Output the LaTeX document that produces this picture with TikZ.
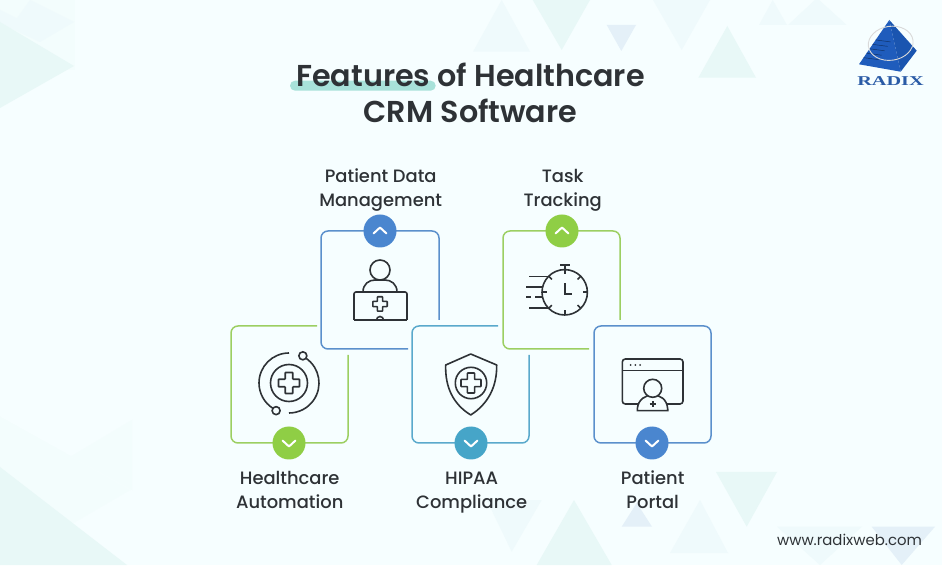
\documentclass[tikz,border=0pt]{standalone}
\usepackage{fontspec}
\setmainfont{Poppins}
\newfontfamily\titlefont{Poppins SemiBold}
\newfontfamily\capfont{Poppins Medium}
\newfontfamily\logofont{Liberation Serif}
\usetikzlibrary{positioning}

\definecolor{paper}{HTML}{F6FEFF}
\definecolor{inkdark}{HTML}{2E3236}
\definecolor{markbar}{HTML}{A8E2DA}
\definecolor{bluebox}{HTML}{5B90CC}
\definecolor{bluebadge}{HTML}{4A86CF}
\definecolor{greenbox}{HTML}{9CCF62}
\definecolor{greenbadge}{HTML}{8FCE45}
\definecolor{tealbox}{HTML}{5AA9CC}
\definecolor{tealbadge}{HTML}{46A5C8}
\definecolor{triA}{HTML}{E8F8F7}
\definecolor{triB}{HTML}{EFFAFC}
\definecolor{triC}{HTML}{E4F0F8}
\definecolor{triD}{HTML}{F3FDFD}
\definecolor{logoleft}{HTML}{1F5CBC}
\definecolor{logoright}{HTML}{1A55B0}
\definecolor{logotextc}{HTML}{2A5BA6}

\tikzset{
  card/.style={line width=1.5pt, rounded corners=7pt},
  badge/.style={circle, minimum size=33pt, inner sep=0pt},
  caption/.style={font=\capfont\fontsize{17.9}{24}\selectfont, text=inkdark, align=center, inner sep=0pt, xshift=.7pt},
  icon/.style={draw=inkdark, line width=1.6pt},
  chevup/.pic={\draw[white, line width=2pt, line cap=round, line join=round] (-6.5,-2.5) -- (0,3.5) -- (6.5,-2.5);},
  chevdown/.pic={\draw[white, line width=2pt, line cap=round, line join=round] (-6.5,2.5) -- (0,-3.5) -- (6.5,2.5);},
  plusmark/.pic={\draw[icon, rounded corners=.6pt] (-3.6,10) -- (3.6,10) -- (3.6,3.6) -- (10,3.6) -- (10,-3.6) -- (3.6,-3.6)
    -- (3.6,-10) -- (-3.6,-10) -- (-3.6,-3.6) -- (-10,-3.6) -- (-10,3.6) -- (-3.6,3.6) -- cycle;}
}

\begin{document}
\begin{tikzpicture}[x=1pt, y=1pt]
  \useasboundingbox (0,0) rectangle (942,565);
  \fill[paper] (0,0) rectangle (942,565);

  % background triangles
  \fill[triD] (0,565) -- (75,565) -- (75,495) -- (0,495) -- cycle;
  \fill[triB] (30,565) -- (74,543) -- (40,523) -- (10,537) -- cycle;
  \fill[triB] (0,555) -- (24,543) -- (0,530) -- cycle;
  \fill[triA] (0,543) -- (74,499) -- (0,457) -- cycle;
  \fill[triD] (0,148) -- (132,75) -- (132,145) -- (65,105) -- (0,60) -- cycle;
  \fill[triD] (0,148) -- (130,75) -- (70,40) -- (23,62) -- (0,75) -- cycle;
  \fill[triA] (0,98) -- (127,0) -- (0,0) -- cycle;
  \fill[triB] (501.7,565) -- (530,513.3) -- (473,513.3) -- cycle;
  \fill[triA] (532.7,565) -- (590,565) -- (561.7,515) -- cycle;
  \fill[triC] (606.7,540) -- (636,540) -- (621.3,514) -- cycle;
  \fill[triB] (653,565) -- (710,565) -- (681.7,515) -- cycle;
  \fill[triA] (727.3,539) -- (756,487.3) -- (698.3,487.3) -- cycle;
  \fill[triB] (772.7,565) -- (787,540) -- (759,540) -- cycle;
  \fill[triB] (817,567) -- (846.7,540) -- (788,540) -- cycle;
  \fill[triB] (486.7,65) -- (541.7,65) -- (511.7,13.3) -- cycle;
  \fill[triA] (574,65) -- (611.7,0) -- (536.7,0) -- cycle;
  \fill[triC] (636.7,62) -- (652,38.3) -- (621.7,38.3) -- cycle;
  \fill[triB] (700,65) -- (728,12) -- (670,12) -- cycle;
  \fill[triA] (716,93) -- (777,93) -- (746.7,38.3) -- cycle;
  \fill[triB] (777,38.3) -- (862,38.3) -- (820,0) -- cycle;
  \fill[triC] (871.7,38.3) -- (935,38.3) -- (901.7,0) -- cycle;

  % logo
  \fill[logoleft] (889.3,545) -- (859,500.7) -- (900.7,493.3) -- cycle;
  \fill[logoright] (889.3,545) -- (916.7,514.3) -- (900.7,493.3) -- cycle;
  \foreach \s in {0.45,0.55,0.65,0.75,0.85}
    \draw[logoright!60!black, line width=.5pt] ({889.3-30.3*\s},{545-44.3*\s}) -- ++(15,-2);
  \draw[gray!30, line width=.9pt, rotate around={8:(890.7,521.7)}] (890.7,521.7) ellipse [x radius=22.5pt, y radius=17pt];
  \node[font=\logofont\bfseries\fontsize{13.5}{13.5}\selectfont, text=logotextc, xscale=1.5, inner sep=0pt] (logotext) at (890.5,483.5) {RADIX};

  % title
  \fill[markbar, rounded corners=5pt] (290,474.3) rectangle (435.7,484.3);
  \node[font=\titlefont\fontsize{30.2}{35.5}\selectfont, text=inkdark, align=center, inner sep=0pt] (title) at (470.5,472) {Features of Healthcare\\CRM Software};
  \node[font=\fontsize{14.9}{14.9}\selectfont, text=inkdark, inner sep=0pt] (website) at (849.5,25) {www.radixweb.com};

  % cards
  \draw[card, bluebox] (439,245) -- (439,334) -- (321,334) -- (321,216) -- (408,216);
  \draw[card, greenbox] (317,239) -- (231,239) -- (231,122) -- (348,122) -- (348,210);
  \draw[card, tealbox] (498,239) -- (412,239) -- (412,122) -- (529,122) -- (529,210);
  \draw[card, greenbox] (620,245) -- (620,334) -- (503,334) -- (503,216) -- (589,216);
  \draw[card, bluebox] (594,122) rectangle (711,239);

  % badges
  \node[badge, fill=bluebadge] (patient) at (380,334) {};
  \node[badge, fill=greenbadge] (task) at (562,334) {};
  \node[badge, fill=greenbadge] (automation) at (289,122) {};
  \node[badge, fill=tealbadge] (hipaa) at (471,122) {};
  \node[badge, fill=bluebadge] (portal) at (652,122) {};
  \pic at (patient) {chevup};
  \pic at (task) {chevup};
  \pic at (automation) {chevdown};
  \pic at (hipaa) {chevdown};
  \pic at (portal) {chevdown};

  % captions
  \node[caption, above=.5pt of patient] (patienttext) {\strut Patient Data\\\strut Management};
  \node[caption, above=.5pt of task] (tasktext) {\strut Task\\\strut Tracking};
  \node[caption, below=7.5pt of automation] (automationtext) {\strut Healthcare\\\strut Automation};
  \node[caption, below=7.5pt of hipaa] (hipaatext) {\strut HIPAA\\\strut Compliance};
  \node[caption, below=7.5pt of portal] (portaltext) {\strut Patient\\\strut Portal};

  % doctor at laptop
  \draw[icon] (380,295) circle (10);
  \draw[icon] (363,273) .. controls (363,281) and (369,285) .. (375,285) -- (385,285) .. controls (391,285) and (397,281) .. (397,273);
  \draw[icon, rounded corners=2pt] (354,245) -- (354,273) -- (407,273) -- (407,245);
  \draw[icon] (354,245) -- (407,245);
  \draw[icon] (376.5,245) arc (180:0:3.5);
  \pic[scale=.72] at (380,261) {plusmark};

  % orbit
  \draw[icon] (289,182) circle (18.5);
  \pic[scale=1.05] at (289,182) {plusmark};
  \draw[icon] (289,212) arc (90:238:30);
  \draw[icon] (289,182) ++(55:30) arc (55:-90:30);
  \draw[icon] (289,182) ++(245:30.5) circle (4);
  \draw[icon] (289,182) ++(63:30.5) circle (4);

  % shield
  \draw[icon, line join=round] (470.7,211) -- (496.7,200) .. controls (497,178) and (488,161) .. (470.7,150)
    .. controls (453,161) and (445,178) .. (445.7,200) -- cycle;
  \draw[icon] (471,182) circle (15.7);
  \pic[scale=1] at (471,182) {plusmark};

  % stopwatch
  \draw[icon] (564.7,272.7) circle (22.7);
  \draw[icon] (564.7,295.4) -- (564.7,300);
  \draw[icon] (560,300) -- (569.5,300);
  \foreach \a in {0,45,...,315}
    \draw[icon] (564.7,272.7) ++(\a:22.7) -- ++(\a+180:4.5);
  \draw[icon] (564.7,281.7) -- (564.7,270.7) -- (572.3,270.7);
  \draw[icon] (529.3,288.3) -- (548.3,288.3);
  \draw[icon] (526,277.7) -- (543.3,277.7);
  \draw[icon] (526,267.7) -- (530.7,267.7);
  \draw[icon] (535,267.7) -- (543.3,267.7);
  \draw[icon] (529.3,256.7) -- (548.3,256.7);

  % browser window with person
  \draw[icon, rounded corners=3pt] (622.3,161) rectangle (683,206);
  \draw[icon] (622.3,194.3) -- (683,194.3);
  \foreach \d in {630.7,635.3,640}
    \fill[inkdark] (\d,200) circle (1);
  \draw[icon, fill=paper] (637.3,154.3) -- (637.3,156) .. controls (638,166) and (646,170) .. (652.7,170)
    .. controls (660,170) and (667,166) .. (667.7,156) -- (667.7,154.3) -- cycle;
  \draw[icon, fill=paper] (652.7,176.7) circle (9);
  \draw[icon] (649.7,161) -- (655.7,161);
  \draw[icon] (652.7,158) -- (652.7,164);
\end{tikzpicture}
\end{document}
